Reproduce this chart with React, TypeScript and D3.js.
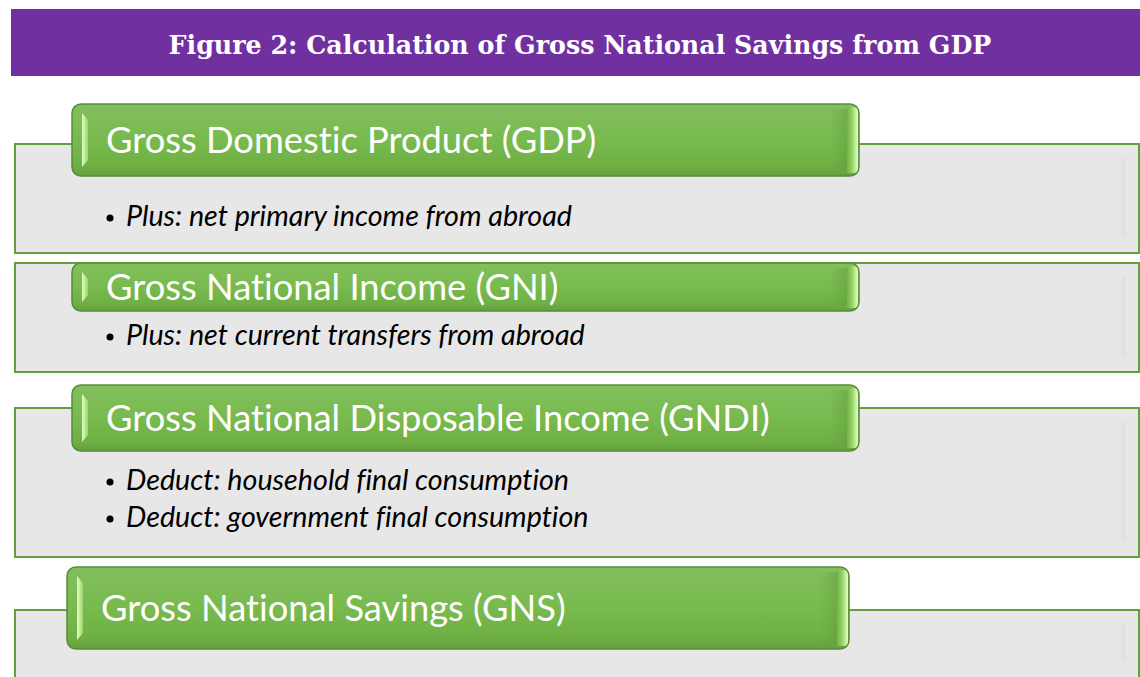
import React from "react";
import * as d3 from "d3";

const titleText = "Figure 2: Calculation of Gross National Savings from GDP";
const stageLabels = [
  "Gross Domestic Product (GDP)",
  "Gross National Income (GNI)",
  "Gross National Disposable Income (GNDI)",
  "Gross National Savings (GNS)",
];
const stageBullets: string[][] = [
  ["Plus: net primary income from abroad"],
  ["Plus: net current transfers from abroad"],
  ["Deduct: household final consumption", "Deduct: government final consumption"],
  [],
];

// layout (pixels)
const W = 1140;
const H = 677;
const bannerTop = [104, 263, 385, 567];
const bannerBottom = [176, 311, 451, 649];
const bannerLeft = [72, 72, 72, 67];
const bannerRight = [859, 859, 859, 849];
const boxTop = [144, 263, 408, 610];
const boxBottom = [253, 372, 557, 700];
const bulletY0 = [226, 345, 490, 0];
const bulletStep = 37;

const noLig = { fontVariantLigatures: "none", fontFeatureSettings: "'liga' 0, 'clig' 0" } as any;

export default function App() {
  const idx = d3.range(stageLabels.length);
  return (
    <svg
      width={W}
      height={H}
      style={{ position: "absolute", left: 0, top: 0, background: "#fff" }}
    >
      <defs>
        <linearGradient id="bannerGrad" x1="0" y1="0" x2="0" y2="1">
          <stop offset="0" stopColor="#82bf5d" />
          <stop offset="0.5" stopColor="#78ba4e" />
          <stop offset="0.85" stopColor="#6fb045" />
          <stop offset="1" stopColor="#64a03e" />
        </linearGradient>
        <linearGradient id="rightBevel" x1="0" y1="0" x2="1" y2="0">
          <stop offset="0" stopColor="#74b249" />
          <stop offset="0.45" stopColor="#94d263" />
          <stop offset="1" stopColor="#e4ffc8" />
        </linearGradient>
        <linearGradient id="rightShade" x1="0" y1="0" x2="1" y2="0">
          <stop offset="0" stopColor="#5f9c3a" stopOpacity={0} />
          <stop offset="1" stopColor="#5f9c3a" stopOpacity={0.45} />
        </linearGradient>
        <linearGradient id="leftBevel" x1="0" y1="0" x2="1" y2="0">
          <stop offset="0" stopColor="#e2ffc6" />
          <stop offset="1" stopColor="#9ad46a" />
        </linearGradient>
      </defs>
      <rect x={11} y={9} width={W - 11} height={67} fill="#7030a0" />
      <text
        x={580}
        y={54}
        textAnchor="middle"
        fill="#fff"
        fontFamily="'DejaVu Serif', serif"
        fontWeight="bold"
        fontSize={25.3}
      >
        {titleText}
      </text>
      {idx.map((i) => {
        const bx = bannerLeft[i];
        const by = bannerTop[i];
        const bw = bannerRight[i] - bannerLeft[i];
        const bh = bannerBottom[i] - bannerTop[i];
        const x2 = bannerRight[i];
        return (
          <g key={i}>
            <rect
              x={15}
              y={boxTop[i]}
              width={W - 16}
              height={boxBottom[i] - boxTop[i]}
              fill="#e7e7e7"
              stroke="#62a03d"
              strokeWidth={2}
            />
            <rect
              x={W - 19}
              y={boxTop[i] + 14}
              width={5}
              height={Math.min(boxBottom[i], H) - boxTop[i] - 28}
              fill="#dcdcdc"
              opacity={0.5}
              rx={2}
            />
            <rect
              x={bx}
              y={by}
              width={bw}
              height={bh}
              rx={9}
              fill="url(#bannerGrad)"
              stroke="#5a8a3c"
              strokeWidth={1.5}
            />
            <rect
              x={x2 - 30}
              y={by + 5}
              width={18}
              height={bh - 10}
              fill="url(#rightShade)"
            />
            <path
              d={`M${x2 - 12},${by + 3} L${x2 - 5},${by + 3} Q${x2 - 1},${by + 3} ${x2 - 1},${by + 9} L${x2 - 1},${by + bh - 9} Q${x2 - 1},${by + bh - 3} ${x2 - 5},${by + bh - 3} L${x2 - 12},${by + bh - 3} Z`}
              fill="url(#rightBevel)"
            />
            <path
              d={`M${bx + 10},${by + 9} L${bx + 16},${by + 16} L${bx + 16},${by + bh - 16} L${bx + 10},${by + bh - 9} Z`}
              fill="url(#leftBevel)"
            />
            <text
              x={bx + 34}
              y={(by + bh / 2) + 13}
              fill="#fff"
              fontFamily="Lato, 'Open Sans', sans-serif"
              fontSize={36.3}
              style={noLig}
            >
              {stageLabels[i]}
            </text>
            {stageBullets[i].map((b, j) => (
              <g key={j}>
                <circle cx={110} cy={bulletY0[i] + j * bulletStep - 8} r={3.5} fill="#000" />
                <text
                  x={126}
                  y={bulletY0[i] + j * bulletStep}
                  fill="#000"
                  fontFamily="Lato, 'Open Sans', sans-serif"
                  fontStyle="italic"
                  fontSize={28.7}
                  style={noLig}
                >
                  {b}
                </text>
              </g>
            ))}
          </g>
        );
      })}
    </svg>
  );
}
